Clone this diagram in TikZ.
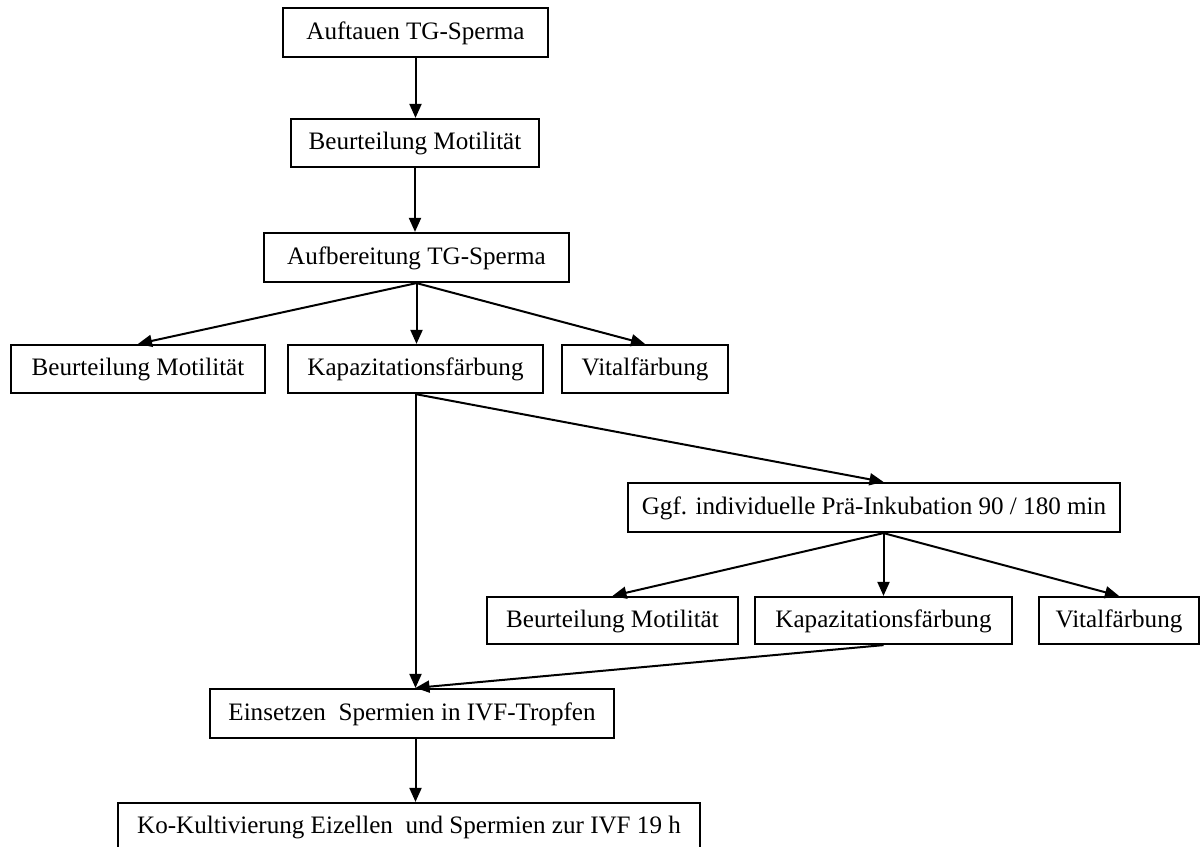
\documentclass[tikz,border=0pt]{standalone}
\usepackage{fontspec}
\setmainfont{Liberation Serif}
\usetikzlibrary{arrows.meta}
\newcommand{\mybox}[6]{\node[box,minimum width=#4*0.5pt,minimum height=#5*0.5pt] (#1) at (#2,#3) {#6};}
\begin{document}
\begin{tikzpicture}[x=0.5pt,y=-0.5pt,
  box/.style={draw,line width=1.1pt,inner sep=0pt,font=\fontsize{12.55}{15}\selectfont,text height=0.8em,text depth=0.14em},
  arr/.style={line width=1pt,-{Triangle[length=7pt,width=6pt]}}]
\useasboundingbox (0,0) rectangle (1201,847);
\mybox{b1}{415.5}{32.5}{265}{49}{Auftauen TG-Sperma}
\mybox{b2}{415}{143}{248}{48}{Beurteilung Motilität}
\mybox{b3}{416.5}{257.5}{305}{49}{Aufbereitung TG-Sperma}
\mybox{a1}{138}{369}{254}{48}{Beurteilung Motilität}
\mybox{k1}{415.5}{369}{255}{48}{Kapazitationsfärbung}
\mybox{v1}{645}{369}{166}{48}{Vitalfärbung}
\mybox{ggf}{874}{507.5}{492}{49}{Ggf. individuelle Prä-Inkubation 90 / 180 min}
\mybox{a2}{612.5}{620.5}{251}{47}{Beurteilung Motilität}
\mybox{k2}{883.5}{620.5}{257}{47}{Kapazitationsfärbung}
\mybox{v2}{1119}{620.5}{160}{47}{Vitalfärbung}
\mybox{ein}{412}{713.5}{404}{49}{Einsetzen~~Spermien in IVF-Tropfen}
\mybox{ko}{409}{827}{582}{48}{Ko-Kultivierung Eizellen~~und Spermien zur IVF 19 h}
\draw[arr] (b1.south) -- (b1.south |- b2.north);
\draw[arr] (b2.south) -- (b2.south |- b3.north);
\draw[arr] (b3.south) -- (a1.north);
\draw[arr] (b3.south) -- (b3.south |- k1.north);
\draw[arr] (b3.south) -- (v1.north);
\draw[arr] (k1.south) -- (k1.south |- ein.north);
\draw[arr] (k1.south) -- (k2.north |- ggf.north);
\draw[arr] (k2.north |- ggf.south) -- (a2.north);
\draw[arr] (k2.north |- ggf.south) -- (k2.north);
\draw[arr] (k2.north |- ggf.south) -- (v2.north);
\draw[arr] (k2.south) -- (k1.south |- ein.north);
\draw[arr] (k1.south |- ein.south) -- (k1.south |- ko.north);
\end{tikzpicture}
\end{document}
